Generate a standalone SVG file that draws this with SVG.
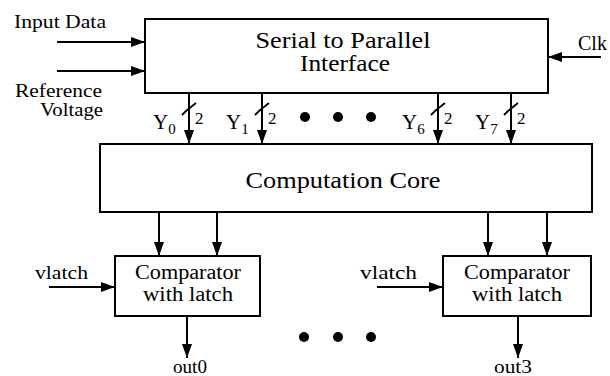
<svg xmlns="http://www.w3.org/2000/svg" width="610" height="376" viewBox="0 0 610 376" font-family="'Liberation Serif', 'Times New Roman', Times, serif">
  <style>
    .box { fill: #ffffff; stroke: #000000; stroke-width: 2; }
    .wire { fill: none; stroke: #000000; stroke-width: 2; marker-end: url(#head); }
    .tick { fill: none; stroke: #000000; stroke-width: 1.8; }
    text { font-family: 'Liberation Serif', 'Times New Roman', Times, serif; fill: #000000; }
    .big { font-size: 23px; text-anchor: middle; }
    .mid { font-size: 20px; text-anchor: middle; }
    .lbl { font-size: 21px; }
    .bus { font-size: 17px; }
    .sub { font-size: 15px; }
    .dot { fill: #000000; }
  </style>
  <defs>
    <marker id="head" markerUnits="userSpaceOnUse" markerWidth="14" markerHeight="10" refX="14" refY="5" orient="auto">
      <path d="M0,0 L14,5 L0,10 Z" fill="#000000"/>
    </marker>
  </defs>

  <rect width="610" height="376" fill="#ffffff"/>

  <!-- serial-to-parallel front end -->
  <g id="serial-parallel">
    <rect class="box" x="145" y="19" width="403" height="74"/>
    <text class="big" x="343" y="48" textLength="175" lengthAdjust="spacingAndGlyphs">Serial to Parallel</text>
    <text class="big" x="345" y="71" textLength="90" lengthAdjust="spacingAndGlyphs">Interface</text>
  </g>

  <!-- computation core -->
  <g id="computation-core">
    <rect class="box" x="100" y="144" width="492" height="68"/>
    <text class="big" x="343" y="188" textLength="195" lengthAdjust="spacingAndGlyphs">Computation Core</text>
  </g>

  <!-- comparators -->
  <g id="comparator-0">
    <rect class="box" x="115" y="256" width="145" height="60"/>
    <text class="mid" x="188" y="279" textLength="106" lengthAdjust="spacingAndGlyphs">Comparator</text>
    <text class="mid" x="188" y="301" textLength="90" lengthAdjust="spacingAndGlyphs">with latch</text>
  </g>
  <g id="comparator-3">
    <rect class="box" x="443" y="256" width="148" height="60"/>
    <text class="mid" x="517" y="279" textLength="106" lengthAdjust="spacingAndGlyphs">Comparator</text>
    <text class="mid" x="517" y="301" textLength="90" lengthAdjust="spacingAndGlyphs">with latch</text>
  </g>

  <!-- external signal labels -->
  <g id="labels">
    <text x="14" y="28" style="font-size:18px" textLength="92" lengthAdjust="spacingAndGlyphs">Input Data</text>
    <text x="15" y="97" style="font-size:19px" textLength="87" lengthAdjust="spacingAndGlyphs">Reference</text>
    <text x="40" y="116" style="font-size:19px" textLength="63" lengthAdjust="spacingAndGlyphs">Voltage</text>
    <text x="578" y="50" style="font-size:20px">Clk</text>
    <text x="35" y="279" style="font-size:18px" textLength="53" lengthAdjust="spacingAndGlyphs">vlatch</text>
    <text x="360" y="279" style="font-size:18px" textLength="57" lengthAdjust="spacingAndGlyphs">vlatch</text>
    <text x="190" y="373" style="font-size:18px" text-anchor="middle" textLength="34" lengthAdjust="spacingAndGlyphs">out0</text>
    <text x="513" y="373" style="font-size:18px" text-anchor="middle" textLength="38" lengthAdjust="spacingAndGlyphs">out3</text>
  </g>

  <!-- bus labels -->
  <g id="bus-labels">
    <text class="lbl" x="153" y="129">Y<tspan class="sub" dy="5">0</tspan></text>
    <text class="lbl" x="226" y="129">Y<tspan class="sub" dy="5">1</tspan></text>
    <text class="lbl" x="402" y="129">Y<tspan class="sub" dy="5">6</tspan></text>
    <text class="lbl" x="475" y="129">Y<tspan class="sub" dy="5">7</tspan></text>
    <text class="bus" x="195" y="124">2</text>
    <text class="bus" x="268" y="124">2</text>
    <text class="bus" x="444" y="124">2</text>
    <text class="bus" x="517" y="124">2</text>
  </g>

  <!-- ellipses between repeated channels -->
  <g id="ellipsis-bus">
    <circle class="dot" cx="305" cy="117" r="5"/>
    <circle class="dot" cx="338" cy="117" r="5"/>
    <circle class="dot" cx="371" cy="117" r="5"/>
  </g>
  <g id="ellipsis-out">
    <circle class="dot" cx="304" cy="337" r="5"/>
    <circle class="dot" cx="338" cy="337" r="5"/>
    <circle class="dot" cx="371" cy="337" r="5"/>
  </g>

  <!-- connectors -->
  <g id="connectors">
    <line class="wire" x1="57" y1="42" x2="145" y2="42"/>
    <line class="wire" x1="57" y1="71" x2="145" y2="71"/>
    <line class="wire" x1="601" y1="57" x2="548" y2="57"/>

    <line class="wire" x1="189" y1="93" x2="189" y2="144"/>
    <line class="wire" x1="262" y1="93" x2="262" y2="144"/>
    <line class="wire" x1="438" y1="93" x2="438" y2="144"/>
    <line class="wire" x1="511" y1="93" x2="511" y2="144"/>
    <path class="tick" d="M182,115 L186,111 L196,103"/>
    <path class="tick" d="M255,115 L259,111 L269,103"/>
    <path class="tick" d="M431,115 L435,111 L445,103"/>
    <path class="tick" d="M504,115 L508,111 L518,103"/>

    <line class="wire" x1="159" y1="212" x2="159" y2="256"/>
    <line class="wire" x1="217" y1="212" x2="217" y2="256"/>
    <line class="wire" x1="488" y1="212" x2="488" y2="256"/>
    <line class="wire" x1="547" y1="212" x2="547" y2="256"/>

    <line class="wire" x1="49" y1="287" x2="115" y2="287"/>
    <line class="wire" x1="377" y1="287" x2="443" y2="287"/>

    <line class="wire" x1="187" y1="316" x2="187" y2="358"/>
    <line class="wire" x1="518" y1="316" x2="518" y2="358"/>
  </g>
</svg>
